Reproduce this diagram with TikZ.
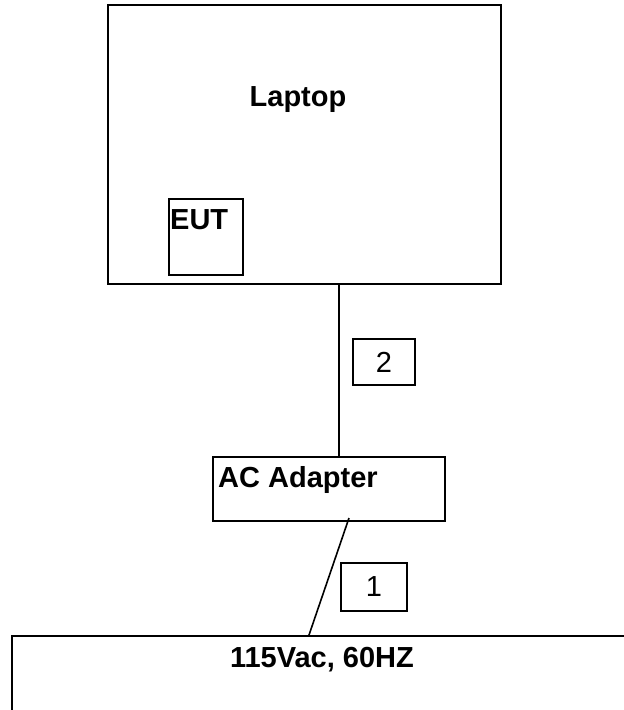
\documentclass[tikz,border=0pt]{standalone}
\usepackage{fontspec}
\setmainfont{Liberation Sans}
\usepackage{tikz}
\usetikzlibrary{
  positioning,
  calc
}
\tikzset{
  eqbox/.style={draw, line width=2pt, inner sep=0pt},
  eqtext/.style={font=\fontsize{29}{33}\selectfont\bfseries, inner sep=0pt},
  tagbox/.style={
    draw, line width=1.6pt, inner sep=0pt, minimum width=62pt, minimum height=46pt,
    font=\fontsize{29}{33}\selectfont
  },
  cable/.style={line width=1.6pt, black}
}

\begin{document}
\begin{tikzpicture}[x=1pt, y=-1pt]
  \useasboundingbox (0,0) rectangle (624,710);
  \clip (0,0) rectangle (624,710);
  \node[eqbox, minimum width=393pt, minimum height=279pt] (laptop) at (304.5,144.5) {};
  \node[eqtext, anchor=base] (laptoplabel) at (298,106) {Laptop};
  \node[eqbox, minimum width=74pt, minimum height=76pt] (eut) at (206,237) {};
  \node[eqtext, anchor=base west] (eutlabel) at (170,229) {EUT};
  \node[eqbox, minimum width=232pt, minimum height=64pt] (adapter) at (329,489) {};
  \node[eqtext, anchor=base west] (adapterlabel) at (218,487) {AC Adapter};
  \node[eqbox, anchor=north west, minimum width=622pt, minimum height=120pt] (mains) at (11,635) {};
  \node[eqtext, anchor=base] (mainslabel) at (322,667) {115Vac, 60HZ};
  \node[tagbox] (tag2) at (384,362) {2};
  \node[tagbox, minimum width=66pt, minimum height=48pt] (tag1) at (374,587) {1};
  \coordinate (lapport) at ($(laptop.south)+(34.5,0)$);
  \draw[cable] (lapport) -- (lapport |- adapter.north);
  \draw[cable] ($(adapter.south)+(20,-4)$) -- ($(mains.north west)+(298,0)$);
\end{tikzpicture}
\end{document}
